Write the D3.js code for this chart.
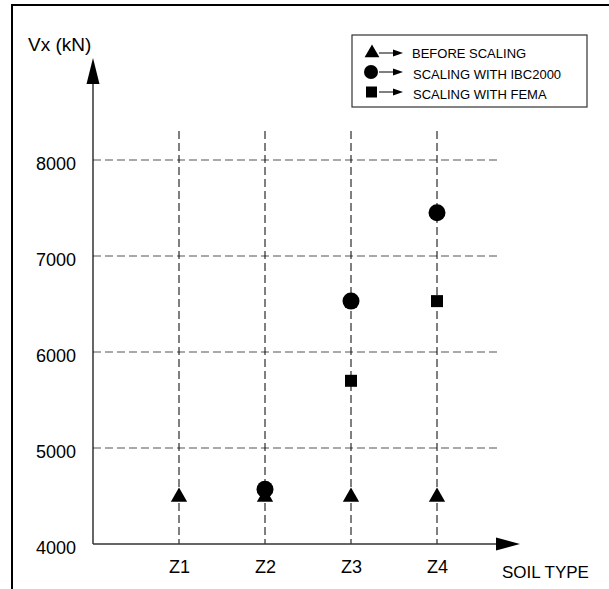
<!DOCTYPE html>
<html>
<head>
<meta charset="utf-8">
<script src="https://cdn.jsdelivr.net/npm/d3@7"></script>
<style>
  body { margin: 0; background: #fff; }
  text { font-family: "Liberation Sans", Arial, sans-serif; fill: #000; }
</style>
</head>
<body>
<div id="chart"></div>
<script>
// chart values
const categories = ["Z1", "Z2", "Z3", "Z4"];
const yTicks = [4000, 5000, 6000, 7000, 8000];
const beforeScaling = [4500, 4500, 4500, 4500];
const scalingIBC2000 = [null, 4570, 6530, 7450];
const scalingFEMA = [null, null, 5700, 6530];
const legendLabels = ["BEFORE SCALING", "SCALING WITH IBC2000", "SCALING WITH FEMA"];

var width = 609, height = 589;

var svg = d3.select("#chart")
    .append("svg")
    .attr("width", width)
    .attr("height", height);

// frame (top + left only)
svg.append("path")
    .attr("d", "M12,589 V5 H609")
    .style("fill", "none")
    .style("stroke", "#000")
    .style("stroke-width", 2);

var x = d3.scaleLinear().domain([0, 4]).range([93, 437]);
var y = d3.scaleLinear().domain([4000, 8000]).range([544, 160]);

// horizontal dashed grid
svg.selectAll(".hgrid")
    .data(yTicks.slice(1))
    .enter()
    .append("line")
    .attr("x1", 93)
    .attr("x2", 497)
    .attr("y1", (d) => y(d))
    .attr("y2", (d) => y(d))
    .style("stroke", "#555")
    .style("stroke-width", 1.2)
    .style("stroke-dasharray", "8,4");

// vertical dashed grid
svg.selectAll(".vgrid")
    .data(categories)
    .enter()
    .append("line")
    .attr("x1", (d, i) => x(i + 1))
    .attr("x2", (d, i) => x(i + 1))
    .attr("y1", 131)
    .attr("y2", y(4000))
    .style("stroke", "#000")
    .style("stroke-width", 1)
    .style("stroke-dasharray", "8,4");

// axes lines with arrows
svg.append("line")
    .attr("x1", x(0)).attr("x2", x(0))
    .attr("y1", y(4000)).attr("y2", 80)
    .style("stroke", "#000").style("stroke-width", 1.2);
svg.append("path")
    .attr("d", "M" + x(0) + ",58 L" + (x(0) - 6.5) + ",84 L" + (x(0) + 6.5) + ",84 Z")
    .style("fill", "#000");

svg.append("line")
    .attr("x1", x(0)).attr("x2", 500)
    .attr("y1", y(4000)).attr("y2", y(4000))
    .style("stroke", "#333").style("stroke-width", 1.5);
svg.append("path")
    .attr("d", "M520," + y(4000) + " L496," + (y(4000) - 6.5) + " L496," + (y(4000) + 6.5) + " Z")
    .style("fill", "#000");

// y tick labels
var yAxis = svg.append("g")
    .attr("transform", "translate(" + x(0) + ",0)")
    .call(d3.axisLeft(y).tickValues(yTicks).tickSize(0).tickPadding(17).tickFormat(d3.format("d")));
yAxis.select(".domain").remove();
yAxis.selectAll("text")
    .style("font-size", "18px")
    .style("font-family", "'Liberation Sans', Arial, sans-serif")
    .attr("dy", "0.55em");

// x tick labels
var xAxis = svg.append("g")
    .attr("transform", "translate(0," + y(4000) + ")")
    .call(d3.axisBottom(x).tickValues([1, 2, 3, 4]).tickSize(0).tickPadding(16)
        .tickFormat((d) => categories[d - 1]));
xAxis.select(".domain").remove();
xAxis.selectAll("text")
    .style("font-size", "18px")
    .style("font-family", "'Liberation Sans', Arial, sans-serif");

// axis titles
svg.append("text")
    .attr("x", 28).attr("y", 51)
    .style("font-size", "19px")
    .text("Vx (kN)");
svg.append("text")
    .attr("x", 502).attr("y", 578)
    .style("font-size", "17px")
    .text("SOIL TYPE");

// markers
var triangle = d3.symbol().type(d3.symbolTriangle).size(115);

svg.selectAll(".tri")
    .data(beforeScaling)
    .enter()
    .append("path")
    .attr("transform", (d, i) => "translate(" + x(i + 1) + "," + (y(d) + 1) + ")")
    .attr("d", triangle)
    .style("fill", "#000");

svg.selectAll(".circ")
    .data(scalingIBC2000.map((v, i) => ({v: v, i: i})).filter((d) => d.v !== null))
    .enter()
    .append("circle")
    .attr("cx", (d) => x(d.i + 1))
    .attr("cy", (d) => y(d.v))
    .attr("r", 8.5)
    .style("fill", "#000");

svg.selectAll(".sq")
    .data(scalingFEMA.map((v, i) => ({v: v, i: i})).filter((d) => d.v !== null))
    .enter()
    .append("rect")
    .attr("x", (d) => x(d.i + 1) - 6)
    .attr("y", (d) => y(d.v) - 6)
    .attr("width", 12)
    .attr("height", 12)
    .style("fill", "#000");

// legend
svg.append("rect")
    .attr("x", 352).attr("y", 35)
    .attr("width", 235).attr("height", 72)
    .style("fill", "#fff")
    .style("stroke", "#333")
    .style("stroke-width", 1.2);

var legendY = [53, 72, 92];
var legend = svg.selectAll(".legend")
    .data(legendLabels)
    .enter()
    .append("g")
    .attr("transform", (d, i) => "translate(0," + legendY[i] + ")");

legend.each(function (d, i) {
    var g = d3.select(this);
    if (i === 0) {
        g.append("path").attr("transform", "translate(372,0)")
            .attr("d", d3.symbol().type(d3.symbolTriangle).size(95)).style("fill", "#000");
    } else if (i === 1) {
        g.append("circle").attr("cx", 371).attr("cy", 0).attr("r", 7).style("fill", "#000");
    } else {
        g.append("rect").attr("x", 366).attr("y", -5.5).attr("width", 11).attr("height", 11).style("fill", "#000");
    }
    g.append("line").attr("x1", 379).attr("x2", 396).attr("y1", 0).attr("y2", 0)
        .style("stroke", "#000").style("stroke-width", 1);
    g.append("path").attr("d", "M403,0 L393,-3.5 L393,3.5 Z").style("fill", "#000");
    g.append("text")
        .attr("x", i === 0 ? 412 : 413)
        .attr("y", i === 0 ? 5 : 7)
        .style("font-size", "13px")
        .text(d);
});
</script>
</body>
</html>
